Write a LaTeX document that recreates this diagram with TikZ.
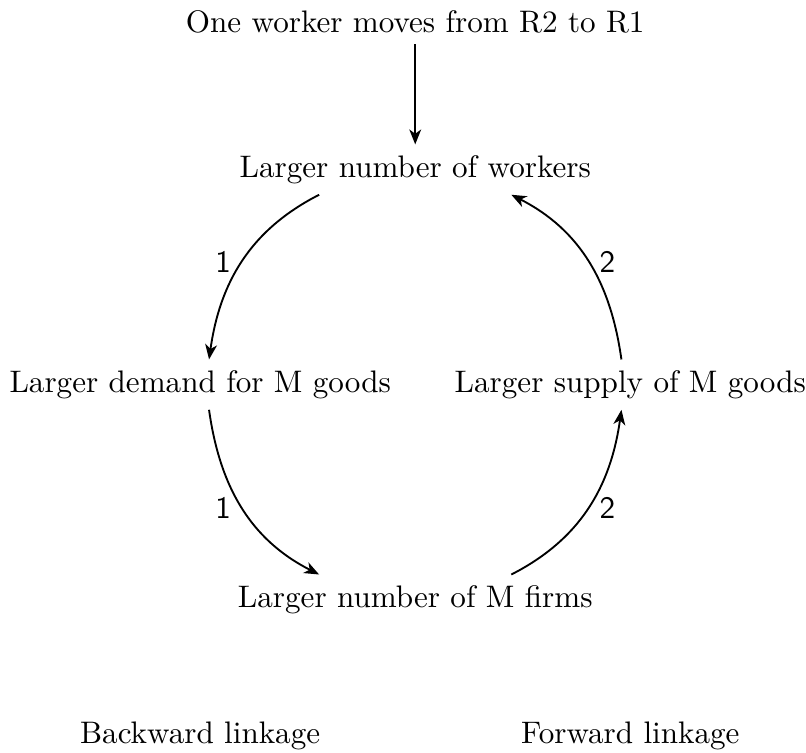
\documentclass[tikz,border=0pt]{standalone}
\usepackage{amsmath,amssymb}
\usepackage{tikz}
\usetikzlibrary{arrows.meta,positioning}

\begin{document}
\begin{tikzpicture}[x=0.987cm,y=0.987cm,
  link/.style={semithick,-{Stealth[length=4.8pt,width=3.8pt,inset=1.4pt]}},
  lbl/.style={font=\sffamily}]
\useasboundingbox (-4.75,-4.21) rectangle (4.47,4.40);

% Shock and the four effects
\node (move) at (0,4.15) {One worker moves from R2 to R1};
\node (workers) at (0,2.46) {Larger number of workers};
\node (demand) at (-2.46,0) {Larger demand for M goods};
\node (supply) at (2.46,0) {Larger supply of M goods};
\node (firms) at (0,-2.46) {Larger number of M firms};

\draw[link] (move) -- (workers);

% Backward linkage (left half of the circle)
\draw[link] ([xshift=-1.085cm]workers.south) to[out=207,in=82]
            node[lbl,pos=0.5,left] {1} ([xshift=0.1cm]demand.north);
\draw[link] ([xshift=0.1cm]demand.south) to[out=-82,in=153]
            node[lbl,pos=0.5,left] {1} ([xshift=-1.085cm]firms.north);

% Forward linkage (right half of the circle)
\draw[link] ([xshift=1.085cm]firms.north) to[out=27,in=-98]
            node[lbl,pos=0.5,right] {2} ([xshift=-0.1cm]supply.south);
\draw[link] ([xshift=-0.1cm]supply.north) to[out=98,in=-27]
            node[lbl,pos=0.5,right] {2} ([xshift=1.085cm]workers.south);

\node (backward) at (-2.46,-4.02) {Backward linkage};
\node (forward) at (2.46,-4.02) {Forward linkage};
\end{tikzpicture}
\end{document}
